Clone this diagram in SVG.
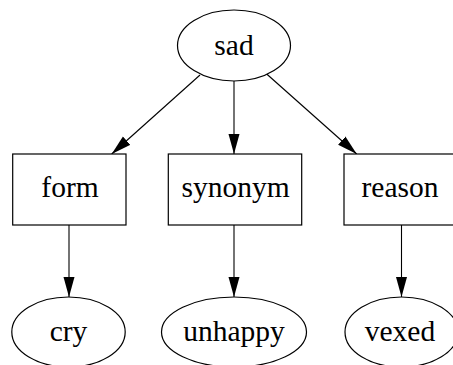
<svg xmlns="http://www.w3.org/2000/svg" width="453" height="365" viewBox="0 0 453 365">
  <style>
    .shape { fill: #ffffff; stroke: #000000; stroke-width: 1.2; }
    .lbl { font-family: "Liberation Serif", "Times New Roman", serif; font-size: 29.5px; fill: #000000; text-anchor: middle; }
    .edge { fill: none; stroke: #000000; stroke-width: 1.1; }
  </style>
  <defs>
    <marker id="arrow" markerUnits="userSpaceOnUse" markerWidth="21" markerHeight="12" refX="20" refY="6" orient="auto">
      <path d="M0,0.5 L20,6 L0,11.5 z" fill="#000000"/>
    </marker>
  </defs>
  <rect x="0" y="0" width="453" height="365" fill="#ffffff"/>
  <g id="connectors">
    <path class="edge" d="M200,75 L111.7,154" marker-end="url(#arrow)"/>
    <path class="edge" d="M234,81 L234,154" marker-end="url(#arrow)"/>
    <path class="edge" d="M266.7,74 L356.7,154" marker-end="url(#arrow)"/>
    <path class="edge" d="M69,225 L69,297" marker-end="url(#arrow)"/>
    <path class="edge" d="M234,225 L234,297" marker-end="url(#arrow)"/>
    <path class="edge" d="M401.5,225 L401.5,297" marker-end="url(#arrow)"/>
  </g>
  <g id="sad">
    <ellipse class="shape" cx="234" cy="45.5" rx="56.5" ry="35.5"/>
    <text class="lbl" x="234" y="55">sad</text>
  </g>
  <g id="form">
    <rect class="shape" x="12.7" y="154" width="113.3" height="71"/>
    <text class="lbl" x="70" y="197">form</text>
  </g>
  <g id="synonym">
    <rect class="shape" x="168.3" y="154" width="133.4" height="71"/>
    <text class="lbl" x="235.5" y="197">synonym</text>
  </g>
  <g id="reason">
    <rect class="shape" x="344" y="154" width="115" height="71"/>
    <text class="lbl" x="400" y="197">reason</text>
  </g>
  <g id="cry">
    <ellipse class="shape" cx="68.5" cy="332" rx="56.7" ry="35"/>
    <text class="lbl" x="68.5" y="341">cry</text>
  </g>
  <g id="unhappy">
    <ellipse class="shape" cx="234" cy="332" rx="72.5" ry="35"/>
    <text class="lbl" x="234" y="341">unhappy</text>
  </g>
  <g id="vexed">
    <ellipse class="shape" cx="401.5" cy="332" rx="56.5" ry="35"/>
    <text class="lbl" x="400" y="341">vexed</text>
  </g>
</svg>
